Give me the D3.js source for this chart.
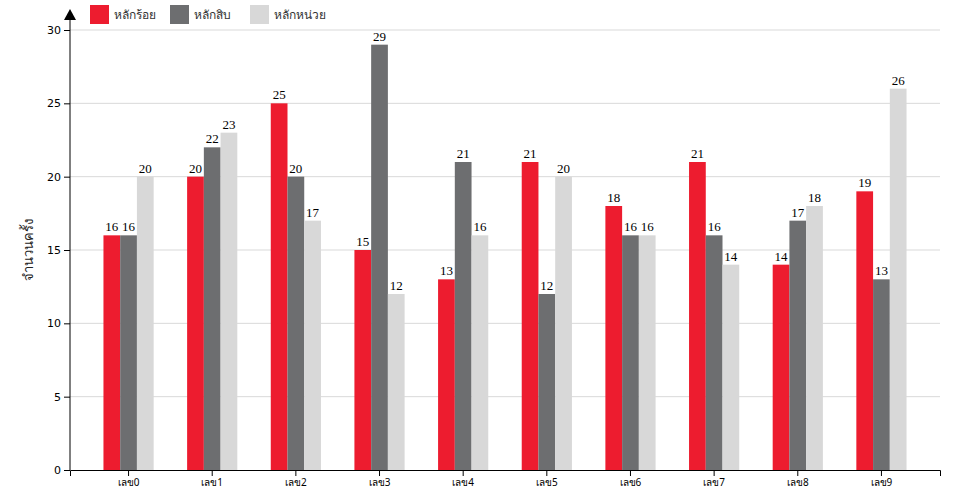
<!DOCTYPE html>
<html><head><meta charset="utf-8">
<script src="https://cdn.jsdelivr.net/npm/d3@7"></script>
<style>body{margin:0;background:#fff}</style>
</head><body>
<svg id="c" width="960" height="500"></svg>
<script>
const categories = ["เลข0","เลข1","เลข2","เลข3","เลข4","เลข5","เลข6","เลข7","เลข8","เลข9"];
const seriesNames = ["หลักร้อย","หลักสิบ","หลักหน่วย"];
const hundreds = [16,20,25,15,13,21,18,21,14,19];
const tens = [16,22,20,29,21,12,16,16,17,13];
const units = [20,23,17,12,16,20,16,14,18,26];
const colors = ["#ed1c2f","#6d6e70","#d8d8d8"];
const yTicks = [0,5,10,15,20,25,30];
const series = [hundreds, tens, units];

(function(){
const svg = d3.select("#c");
const mLeft = 70, mRight = 940, mTop = 30, mBottom = 470;
const x = d3.scaleBand().domain(categories).range([mLeft, mRight]).paddingInner(0.4).paddingOuter(0.4);
const xs = d3.scaleBand().domain(seriesNames).range([0, x.bandwidth()]);
const y = d3.scaleLinear().domain([0, 30]).range([mBottom, mTop]);

// grid
svg.append("g").selectAll("line").data(yTicks.filter(d => d > 0)).join("line")
  .attr("x1", mLeft).attr("x2", mRight).attr("y1", d => y(d)).attr("y2", d => y(d))
  .attr("stroke", "#d9d9d9").attr("stroke-width", 1);

// bars
const groups = svg.append("g").selectAll("g").data(categories).join("g")
  .attr("transform", d => `translate(${x(d)},0)`);
groups.each(function(cat, i) {
  const g = d3.select(this);
  seriesNames.forEach((s, j) => {
    const v = series[j][i];
    g.append("rect").attr("x", xs(s)).attr("width", xs.bandwidth())
      .attr("y", y(v)).attr("height", y(0) - y(v)).attr("fill", colors[j]);
    g.append("text").attr("x", xs(s) + xs.bandwidth() / 2).attr("y", y(v) - 4)
      .attr("text-anchor", "middle").attr("font-family", "Liberation Serif, serif")
      .attr("font-size", 13).attr("fill", "#000").text(v);
  });
});

// axes
const yAxis = svg.append("g").attr("transform", `translate(${mLeft},0)`)
  .call(d3.axisLeft(y).tickValues(yTicks).tickSizeOuter(0));
yAxis.selectAll("text").attr("font-family", "DejaVu Sans, sans-serif").attr("font-size", 11).attr("fill", "#000");
yAxis.select(".domain").remove();
svg.append("line").attr("x1", mLeft).attr("x2", mLeft).attr("y1", 16).attr("y2", mBottom).attr("stroke", "#000");
svg.append("path").attr("d", `M${mLeft - 6},20 L${mLeft + 6},20 L${mLeft},9 Z`).attr("fill", "#000");

const xAxis = svg.append("g").attr("transform", `translate(0,${mBottom})`)
  .call(d3.axisBottom(x).tickSizeOuter(6));
xAxis.selectAll("text").attr("font-family", "Noto Sans, sans-serif").attr("font-size", 10).attr("fill", "#000");

// y label
svg.append("text").attr("transform", `translate(33,${(mTop + mBottom) / 2}) rotate(-90)`)
  .attr("text-anchor", "middle").attr("font-family", "Noto Sans, sans-serif")
  .attr("font-size", 13).attr("fill", "#222").text("จำนวนครั้ง");

// legend
const legX = [90, 170, 250];
const leg = svg.append("g").selectAll("g").data(seriesNames).join("g")
  .attr("transform", (d, i) => `translate(${legX[i]},5)`);
leg.append("rect").attr("width", 19).attr("height", 19).attr("fill", (d, i) => colors[i]);
leg.append("text").attr("x", 24).attr("y", 14).attr("font-family", "Noto Sans, sans-serif")
  .attr("font-size", 12).attr("fill", "#333").text(d => d);
})();
</script>
</body></html>
